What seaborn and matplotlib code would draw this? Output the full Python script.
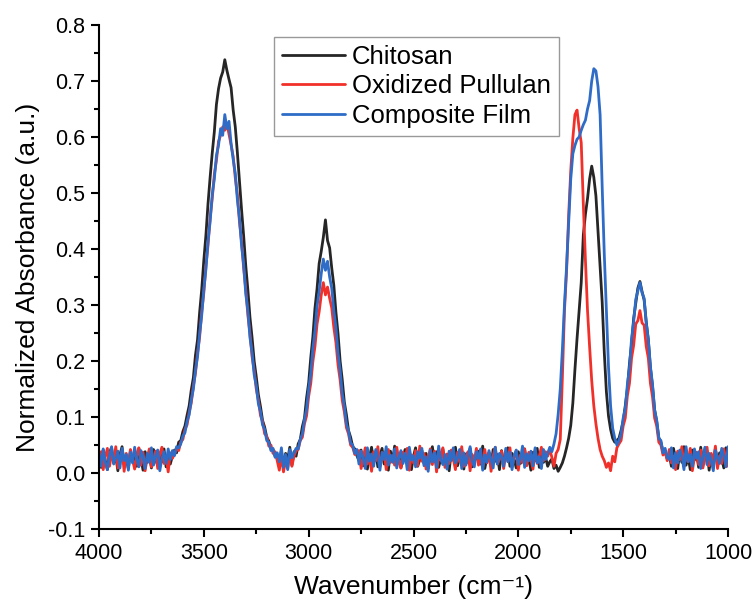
import numpy as np
import pandas as pd
import seaborn as sns
import matplotlib.pyplot as plt
from matplotlib.ticker import MultipleLocator

# FTIR spectra (absorbance x 1000), 4000 -> 1000 cm-1 every 10 cm-1
wavenumber = np.arange(4000, 999, -10)

chitosan = [
    # 4000-3660 baseline
    28, 10, 41, 22, 6, 37, 45, 18, 30, 4, 33, 47, 15, 26, 8, 40, 21, 35, 12, 44,
    27, 5, 38, 19, 31, 9, 42, 24, 14, 36, 20, 43, 11, 29, 16,
    # 3650-3150 O-H / N-H band
    30, 41, 36, 55, 58, 74, 84, 103, 120, 148, 170, 210, 238, 287, 328, 380, 425, 481, 528, 571,
    609, 658, 686, 705, 716, 738, 719, 703, 688, 648, 618, 572, 522, 470, 423, 370, 327, 278, 242, 200,
    172, 140, 119, 94, 82, 64, 57, 44, 42, 30, 33,
    # 3140-3080
    18, 40, 9, 35, 24, 46, 14,
    # 3070-2770 C-H band
    38, 30, 52, 60, 83, 98, 134, 161, 206, 243, 294, 329, 374, 396, 421, 452, 415, 402, 366, 335,
    287, 249, 200, 167, 127, 104, 76, 64, 47, 43, 31,
    # 2760-1850 baseline
    22, 41, 13, 34, 7, 28, 46, 19, 37, 11, 31, 44, 16, 25, 5, 39, 21, 48, 14, 33,
    9, 27, 42, 18, 36, 6, 30, 45, 12, 24, 40, 17, 35, 8, 29, 47, 20, 38, 10, 26,
    43, 15, 32, 4, 37, 23, 46, 13, 28, 41, 7, 34, 19, 44, 11, 30, 25, 39, 16, 48,
    8, 27, 36, 14, 42, 21, 33, 6, 40, 18, 29, 45, 12, 35, 24, 9, 38, 17, 31, 43,
    15, 26, 5, 37, 22, 44, 10, 32, 19, 28, 12, 20,
    # 1840-1530 amide band
    25, 8, 14, 3, 10, 18, 30, 45, 62, 85, 125, 185, 240, 290, 340, 425, 462, 490, 525, 548,
    528, 495, 432, 370, 305, 215, 145, 102, 78, 62, 55, 58,
    # 1520-1290
    62, 76, 93, 120, 150, 195, 230, 276, 303, 330, 342, 324, 309, 270, 238, 188, 155, 113, 92, 63,
    55, 38, 40, 26,
    # 1280-1000 baseline
    33, 12, 44, 25, 8, 38, 19, 47, 14, 30, 6, 41, 23, 35, 10, 46, 17, 28, 39, 5,
    32, 21, 43, 13, 36, 26, 9, 45, 18,
]

oxidized_pullulan = [
    15, 38, 6, 29, 44, 12, 33, 21, 47, 9, 26, 40, 3, 35, 18, 42, 24, 7, 31, 45,
    14, 37, 4, 28, 43, 11, 22, 39, 8, 34, 46, 17, 27, 2, 36,
    26, 34, 44, 40, 55, 60, 78, 86, 108, 125, 155, 178, 214, 243, 288, 322, 370, 407, 455, 490,
    533, 558, 592, 603, 618, 612, 624, 605, 586, 565, 527, 496, 448, 413, 365, 328, 282, 249, 208, 183,
    150, 130, 103, 92, 70, 66, 48, 50, 35, 38, 22,
    5, 30, 2, 22, 8, 38, 12,
    30, 40, 42, 58, 64, 88, 102, 137, 160, 199, 226, 266, 288, 318, 340, 318, 332, 312, 295, 260,
    233, 193, 166, 130, 109, 81, 70, 50, 46, 33, 38,
    40, 8, 27, 45, 16, 33, 3, 38, 22, 47, 11, 29, 36, 6, 42, 19, 31, 14, 46, 24,
    9, 37, 26, 44, 5, 32, 18, 40, 13, 48, 21, 35, 7, 28, 43, 15, 39, 2, 30, 23,
    45, 10, 34, 17, 41, 25, 6, 37, 20, 47, 12, 29, 38, 4, 33, 22, 44, 14, 27, 9,
    42, 18, 36, 3, 31, 46, 16, 24, 39, 8, 34, 21, 45, 11, 28, 40, 5, 32, 19, 43,
    13, 37, 25, 7, 41, 17, 30, 46, 22, 38, 30, 42,
    28, 12, 35, 42, 60, 170, 290, 360, 460, 540, 598, 640, 648, 615, 590, 480, 380, 290, 225, 165,
    120, 88, 62, 42, 30, 22, 10, 18, 4, 30, 20, 45,
    52, 58, 84, 98, 138, 160, 205, 228, 266, 272, 290, 268, 264, 226, 205, 160, 136, 98, 84, 55,
    50, 32, 38, 22,
    42, 18, 30, 6, 39, 24, 47, 11, 33, 20, 44, 4, 28, 37, 15, 41, 9, 26, 46, 13,
    35, 22, 48, 8, 31, 17, 43, 25, 12,
]

composite_film = [
    35, 12, 43, 20, 6, 31, 47, 16, 27, 39, 9, 44, 22, 33, 5, 37, 18, 46, 25, 11,
    40, 29, 8, 35, 19, 45, 14, 30, 41, 4, 26, 38, 17, 43, 24,
    40, 31, 47, 45, 52, 66, 72, 92, 104, 130, 150, 183, 208, 249, 282, 328, 364, 414, 449, 497,
    525, 567, 585, 615, 603, 640, 615, 628, 588, 560, 535, 488, 455, 406, 372, 320, 290, 242, 215, 176,
    156, 124, 110, 86, 78, 58, 55, 40, 44, 28, 36,
    20, 45, 10, 33, 6, 42, 27,
    36, 44, 43, 60, 70, 95, 114, 150, 178, 222, 254, 298, 324, 356, 382, 362, 378, 350, 330, 290,
    260, 214, 184, 142, 120, 88, 75, 54, 50, 35, 42,
    16, 39, 27, 8, 45, 21, 34, 12, 42, 30, 5, 37, 24, 47, 14, 32, 19, 43, 9, 28,
    40, 17, 35, 6, 46, 23, 31, 11, 38, 26, 44, 13, 29, 3, 41, 20, 36, 10, 48, 25,
    15, 33, 7, 39, 22, 45, 18, 27, 42, 8, 36, 14, 30, 47, 21, 11, 38, 26, 43, 5,
    32, 19, 40, 24, 9, 46, 16, 35, 28, 12, 44, 20, 37, 6, 31, 41, 15, 25, 48, 10,
    34, 22, 39, 13, 45, 18, 29, 8, 42, 24, 35, 46,
    38, 52, 70, 105, 150, 220, 300, 368, 445, 525, 570, 585, 596, 600, 612, 622, 630, 650, 665, 700,
    722, 718, 690, 640, 510, 390, 290, 190, 120, 80, 62, 50,
    58, 70, 98, 115, 158, 188, 240, 270, 310, 325, 340, 322, 312, 268, 238, 190, 158, 112, 94, 62,
    58, 36, 44, 28,
    24, 45, 9, 36, 18, 41, 30, 6, 47, 20, 33, 12, 43, 26, 38, 8, 29, 46, 15, 35,
    22, 4, 40, 27, 17, 44, 31, 11, 47,
]

samples = ['Chitosan', 'Oxidized Pullulan', 'Composite Film']
colors = ['#262626', '#f2302a', '#2e6cc8']

frames = []
for name, vals in zip(samples, [chitosan, oxidized_pullulan, composite_film]):
    frames.append(pd.DataFrame({'Wavenumber': wavenumber,
                                'Absorbance': np.array(vals) / 1000,
                                'Sample': name}))
df = pd.concat(frames, ignore_index=True)

sns.set_theme(style='ticks')
plt.rcParams['font.family'] = ['Liberation Sans', 'DejaVu Sans']
plt.rcParams['text.color'] = 'black'
plt.rcParams['axes.labelcolor'] = 'black'
plt.rcParams['xtick.color'] = 'black'
plt.rcParams['ytick.color'] = 'black'

fig = plt.figure(figsize=(7.53, 6.08), dpi=100)
ax = fig.add_axes([99 / 753, 1 - 529 / 608, 629 / 753, 504 / 608])

sns.lineplot(data=df, x='Wavenumber', y='Absorbance', hue='Sample', hue_order=samples,
             palette=colors, estimator=None, linewidth=2.0, ax=ax)

ax.set_xlim(4000, 1000)
ax.set_ylim(-0.1, 0.8)
ax.xaxis.set_major_locator(MultipleLocator(500))
ax.xaxis.set_minor_locator(MultipleLocator(250))
ax.yaxis.set_minor_locator(MultipleLocator(0.05))
ax.set_yticks(np.arange(-0.1, 0.81, 0.1))
ax.set_yticklabels(['-0.1', '0.0', '0.1', '0.2', '0.3', '0.4', '0.5', '0.6', '0.7', '0.8'])

ax.tick_params(which='major', direction='out', length=6, width=1.5, labelsize=15.5,
               color='black', labelcolor='black', pad=4)
ax.tick_params(which='minor', direction='out', length=3.5, width=1.5, color='black')
ax.set_xlabel('Wavenumber (cm⁻¹)', fontsize=19, labelpad=8, color='black')
ax.set_ylabel('Normalized Absorbance (a.u.)', fontsize=19, labelpad=6, color='black')

sns.despine(ax=ax)
for side in ['left', 'bottom']:
    ax.spines[side].set_color('black')
    ax.spines[side].set_linewidth(1.5)

leg = ax.legend(loc='upper left', bbox_to_anchor=(0.278, 0.976), borderaxespad=0,
                fontsize=18.5, handlelength=2.45, handletextpad=0.3, labelspacing=0.22,
                borderpad=0.3, fancybox=False, framealpha=1, edgecolor='#999999')
leg.get_frame().set_linewidth(1)
for line in leg.get_lines():
    line.set_linewidth(2)
for txt in leg.get_texts():
    txt.set_color('black')

fig.savefig('out.png', dpi=100)
